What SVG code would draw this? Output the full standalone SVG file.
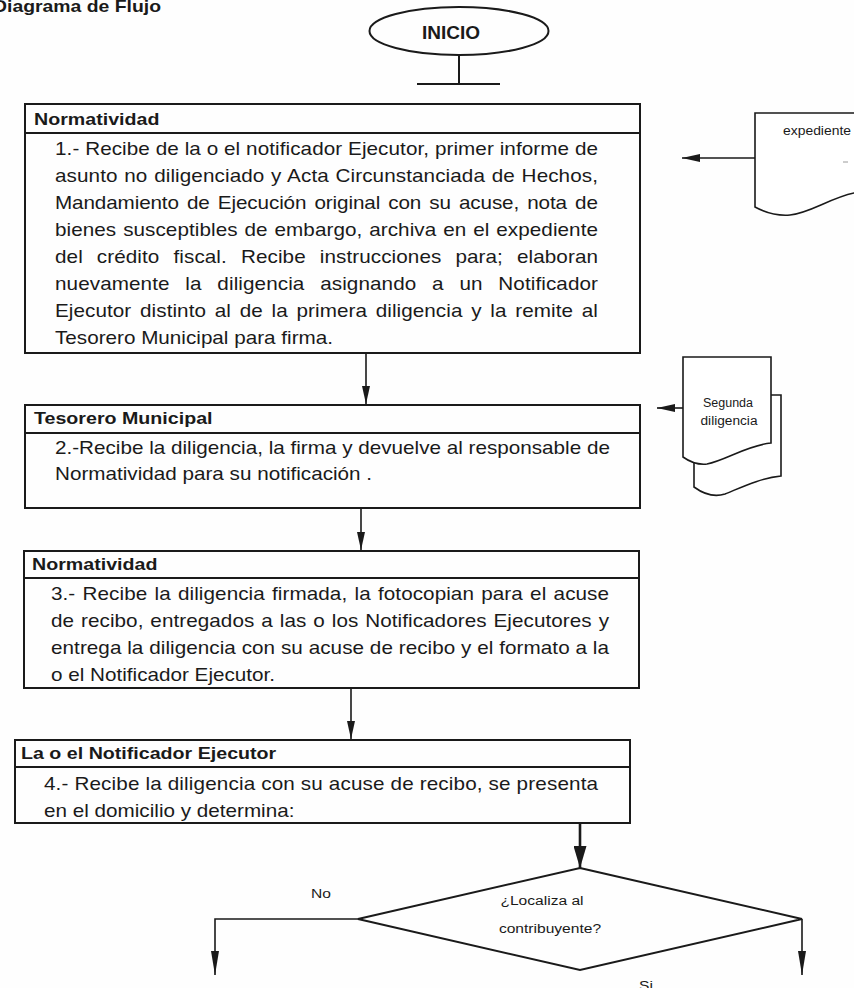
<svg xmlns="http://www.w3.org/2000/svg" width="854" height="988" viewBox="0 0 854 988">
<style>
  .box { fill: none; stroke: #1a1a1a; stroke-width: 2; }
  .ln { fill: none; stroke: #1a1a1a; stroke-width: 1.6; }
  .doc { fill: #ffffff; stroke: #1a1a1a; stroke-width: 1.6; }
  .hd { font-family: "Liberation Sans", Arial, sans-serif; font-size: 17px; font-weight: bold; fill: #1a1a1a; }
  .bd { font-family: "Liberation Sans", Arial, sans-serif; font-size: 18.3px; fill: #1a1a1a; }
  .sm { font-family: "Liberation Sans", Arial, sans-serif; font-size: 13.5px; fill: #1a1a1a; }
  .doct { font-family: "Liberation Sans", Arial, sans-serif; font-size: 12.5px; fill: #1a1a1a; }
</style>
<defs>
  <marker id="arr" markerUnits="userSpaceOnUse" viewBox="0 0 18 8" refX="18" refY="4" markerWidth="18" markerHeight="8" orient="auto">
    <path d="M0,0 L18,4 L0,8 Z" fill="#1a1a1a"/>
  </marker>
  <marker id="arrL" markerUnits="userSpaceOnUse" viewBox="0 0 24 8" refX="24" refY="4" markerWidth="24" markerHeight="8" orient="auto">
    <path d="M0,0 L24,4 L0,8 Z" fill="#1a1a1a"/>
  </marker>
  <marker id="arrB" markerUnits="userSpaceOnUse" viewBox="0 0 22 13" refX="22" refY="6.5" markerWidth="22" markerHeight="13" orient="auto">
    <path d="M0,0 L22,6.5 L0,13 Z" fill="#1a1a1a"/>
  </marker>
</defs>
<rect x="0" y="0" width="854" height="988" fill="#fefefe"/>

<text class="hd" x="161" y="12" text-anchor="end" font-size="16" textLength="168" lengthAdjust="spacingAndGlyphs">Diagrama de Flujo</text>

<g id="inicio">
  <ellipse cx="459" cy="31" rx="89.5" ry="24" class="box"/>
  <text x="451" y="39" text-anchor="middle" font-family="Liberation Sans, Arial, sans-serif" font-size="19" font-weight="bold" fill="#1a1a1a">INICIO</text>
  <line x1="459" y1="55" x2="459" y2="84" class="box"/>
  <line x1="417" y1="84" x2="500" y2="84" class="box"/>
</g>

<g id="paso1">
  <rect x="25" y="104" width="615" height="249" class="box"/>
  <line x1="25" y1="133" x2="640" y2="133" class="box"/>
  <g transform="matrix(1.155 0 0 1 34 0)"><text class="hd" x="0" y="125">Normatividad</text></g>
  <g transform="matrix(1.13 0 0 1 55 0)" class="bd">
    <text x="0" y="155" textLength="480.5" lengthAdjust="spacing">1.- Recibe de la o el notificador Ejecutor, primer informe de</text>
    <text x="0" y="182" textLength="480.5" lengthAdjust="spacing" word-spacing="0.8">asunto no diligenciado y Acta Circunstanciada de Hechos,</text>
    <text x="0" y="209" textLength="480.5" lengthAdjust="spacing" word-spacing="2.2">Mandamiento de Ejecución original con su acuse, nota de</text>
    <text x="0" y="236" textLength="480.5" lengthAdjust="spacing" word-spacing="1">bienes susceptibles de embargo, archiva en el expediente</text>
    <text x="0" y="263" textLength="480.5" lengthAdjust="spacing" word-spacing="7.3">del crédito fiscal. Recibe instrucciones para; elaboran</text>
    <text x="0" y="290" textLength="480.5" lengthAdjust="spacing" word-spacing="8.8">nuevamente la diligencia asignando a un Notificador</text>
    <text x="0" y="317" textLength="480.5" lengthAdjust="spacing" word-spacing="2.6">Ejecutor distinto al de la primera diligencia y la remite al</text>
    <text x="0" y="344">Tesorero Municipal para firma.</text>
  </g>
</g>

<g id="expediente">
  <path class="doc" d="M870,113 H755 V207 C768,214 778,216 790,215 C810,213 830,198 854,193 L870,190"/>
  <text class="doct" x="783" y="135" font-size="13" textLength="68" lengthAdjust="spacingAndGlyphs">expediente</text>
  <line x1="843" y1="162" x2="848" y2="162" stroke="#9a9a9a" stroke-width="1"/>
</g>

<g id="paso2">
  <rect x="25" y="405" width="615" height="103" class="box"/>
  <line x1="25" y1="433" x2="640" y2="433" class="box"/>
  <g transform="matrix(1.155 0 0 1 34 0)"><text class="hd" x="0" y="424">Tesorero Municipal</text></g>
  <g transform="matrix(1.13 0 0 1 55 0)" class="bd">
    <text x="0" y="454">2.-Recibe la diligencia, la firma y devuelve al responsable de</text>
    <text x="0" y="480">Normatividad para su notificación .</text>
  </g>
</g>

<g id="segunda-diligencia">
  <path class="doc" d="M694,395 H781 V476 C760,478 740,488 725,494 C716,497 705,495 694,487 Z"/>
  <path class="doc" d="M683,357 H771 V443 C748,445 726,460 707,464 C698,465 690,462 683,457 Z"/>
  <text class="doct" x="728" y="407" text-anchor="middle">Segunda</text>
  <text class="doct" x="729" y="425" text-anchor="middle" textLength="57" lengthAdjust="spacingAndGlyphs">diligencia</text>
</g>

<g id="paso3">
  <rect x="24" y="551" width="615" height="137" class="box"/>
  <line x1="24" y1="578" x2="639" y2="578" class="box"/>
  <g transform="matrix(1.155 0 0 1 32 0)"><text class="hd" x="0" y="570">Normatividad</text></g>
  <g transform="matrix(1.13 0 0 1 51 0)" class="bd">
    <text x="0" y="600" textLength="493.8" lengthAdjust="spacing" word-spacing="1.3">3.- Recibe la diligencia firmada, la fotocopian para el acuse</text>
    <text x="0" y="627" textLength="493.8" lengthAdjust="spacing" word-spacing="1">de recibo, entregados a las o los Notificadores Ejecutores y</text>
    <text x="0" y="654" textLength="493.8" lengthAdjust="spacing">entrega la diligencia con su acuse de recibo y el formato a la</text>
    <text x="0" y="681">o el Notificador Ejecutor.</text>
  </g>
</g>

<g id="paso4">
  <rect x="15" y="740" width="615" height="83" class="box"/>
  <line x1="15" y1="767" x2="630" y2="767" class="box"/>
  <g transform="matrix(1.155 0 0 1 21 0)"><text class="hd" x="0" y="759">La o el Notificador Ejecutor</text></g>
  <g transform="matrix(1.13 0 0 1 44 0)" class="bd">
    <text x="0" y="790" textLength="490.3" lengthAdjust="spacing">4.- Recibe la diligencia con su acuse de recibo, se presenta</text>
    <text x="0" y="817">en el domicilio y determina:</text>
  </g>
</g>

<g id="decision">
  <path d="M580,868 L802,919 L580,970 L358,919 Z" class="box"/>
  <g class="sm">
    <text transform="translate(542 905) scale(1.155 1)" text-anchor="middle">¿Localiza al</text>
    <text transform="translate(550 933) scale(1.155 1)" text-anchor="middle">contribuyente?</text>
  </g>
</g>

<g id="etiquetas" class="sm">
  <text transform="translate(321 898) scale(1.155 1)" text-anchor="middle">No</text>
  <text transform="translate(646 990) scale(1.155 1)" text-anchor="middle">Si</text>
</g>

<g id="conectores">
  <line x1="755" y1="158" x2="682" y2="158" class="ln" marker-end="url(#arr)"/>
  <line x1="683" y1="408" x2="657" y2="408" class="ln" marker-end="url(#arr)"/>
  <line x1="366" y1="353" x2="366" y2="404" class="ln" marker-end="url(#arr)"/>
  <line x1="361" y1="508" x2="361" y2="550" class="ln" marker-end="url(#arr)"/>
  <line x1="351" y1="688" x2="351" y2="739" class="ln" marker-end="url(#arr)"/>
  <line x1="580" y1="824" x2="580" y2="868" stroke="#1a1a1a" stroke-width="2.6" marker-end="url(#arrB)"/>
  <polyline points="358,919 215,919 215,975" class="ln" stroke-width="2" marker-end="url(#arrL)"/>
  <line x1="802" y1="919" x2="802" y2="975" class="ln" stroke-width="2" marker-end="url(#arrL)"/>
</g>
</svg>
